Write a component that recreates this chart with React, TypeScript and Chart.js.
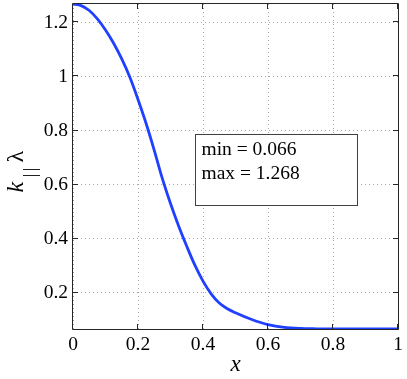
import React, { useEffect, useRef } from "react";
import { Chart, registerables } from "chart.js";

Chart.register(...registerables);

// ---- data ----
const xValues = [0, 0.025, 0.05, 0.075, 0.1, 0.125, 0.15, 0.175, 0.2, 0.225, 0.25, 0.275, 0.3, 0.325, 0.35, 0.375, 0.4, 0.425, 0.45, 0.475, 0.5, 0.55, 0.6, 0.65, 0.7, 0.75, 0.8, 0.9, 1.0];
const yValues = [1.268, 1.262, 1.244, 1.213, 1.172, 1.123, 1.065, 0.997, 0.915, 0.826, 0.727, 0.622, 0.53, 0.447, 0.372, 0.302, 0.243, 0.196, 0.162, 0.141, 0.126, 0.101, 0.082, 0.072, 0.068, 0.0667, 0.066, 0.066, 0.066];
const xTickValues = [0, 0.2, 0.4, 0.6, 0.8, 1];
const xTickLabels = ["0", "0.2", "0.4", "0.6", "0.8", "1"];
const yTickValues = [0.2, 0.4, 0.6, 0.8, 1, 1.2];
const yTickLabels = ["0.2", "0.4", "0.6", "0.8", "1", "1.2"];
const xLabel = "x";
const yLabelMain = "k";
const yLabelSub = "|";
const yLabelTail = "λ";

const SERIF = "'Liberation Serif', 'Times New Roman', serif";
Chart.defaults.font.family = SERIF;

const frameAndTicksPlugin = {
  id: "frameAndTicks",
  afterDatasetsDraw(chart: any) {
    const { ctx, chartArea, scales } = chart;
    const { left, right, top, bottom } = chartArea;
    ctx.save();
    ctx.strokeStyle = "#262626";
    ctx.lineWidth = 1;
    ctx.beginPath();
    ctx.rect(left - 0.5, top - 0.5, right - left + 1, bottom - top + 1);
    ctx.stroke();
    const tl = 5;
    ctx.beginPath();
    for (const v of xTickValues) {
      const px = Math.round(scales.x.getPixelForValue(v)) - 0.5;
      ctx.moveTo(px, bottom);
      ctx.lineTo(px, bottom - tl);
      ctx.moveTo(px, top);
      ctx.lineTo(px, top + tl);
    }
    for (const v of yTickValues) {
      const py = Math.round(scales.y.getPixelForValue(v)) - 0.5;
      ctx.moveTo(left, py);
      ctx.lineTo(left + tl, py);
      ctx.moveTo(right, py);
      ctx.lineTo(right - tl, py);
    }
    ctx.stroke();

    // annotation box
    const w = right - left;
    const h = bottom - top;
    const bx = Math.round(left + 0.374 * w) + 0.5;
    const by = Math.round(top + 0.401 * h) + 0.5;
    const bw = Math.round(0.498 * w);
    const bh = Math.round(0.217 * h);
    ctx.fillStyle = "#ffffff";
    ctx.fillRect(bx, by, bw, bh);
    ctx.strokeStyle = "#404040";
    ctx.strokeRect(bx, by, bw, bh);
    const minV = Math.min(...yValues);
    const maxV = Math.max(...yValues);
    ctx.fillStyle = "#000";
    ctx.font = `19.5px ${SERIF}`;
    ctx.textBaseline = "alphabetic";
    ctx.textAlign = "left";
    ctx.fillText(`min = ${minV.toFixed(3)}`, bx + 6, by + 20);
    ctx.fillText(`max = ${maxV.toFixed(3)}`, bx + 6, by + 44);

    // x axis title
    ctx.font = `italic 23px ${SERIF}`;
    ctx.textAlign = "center";
    ctx.fillText(xLabel, (left + right) / 2, 371);

    // y axis title (rotated), k_|| λ
    const cy = (top + bottom) / 2 + 1;
    ctx.save();
    ctx.translate(23, cy);
    ctx.rotate(-Math.PI / 2);
    ctx.textAlign = "left";
    ctx.font = `italic 24px ${SERIF}`;
    ctx.fillText(yLabelMain, -25, 0);
    ctx.font = `18px ${SERIF}`;
    ctx.fillText(yLabelSub, -9.8, 13);
    ctx.fillText(yLabelSub, -3.8, 13);
    ctx.font = `24px ${SERIF}`;
    ctx.fillText(yLabelTail, 5, 0);
    ctx.restore();
    ctx.restore();
  },
};

export default function App() {
  const ref = useRef<HTMLCanvasElement | null>(null);
  useEffect(() => {
    if (!ref.current) return;
    const chart = new Chart(ref.current, {
      type: "line",
      data: {
        datasets: [
          {
            data: xValues.map((x, i) => ({ x, y: yValues[i] })),
            borderColor: "#2040ff",
            borderWidth: 2.8,
            pointRadius: 0,
            fill: false,
            cubicInterpolationMode: "monotone",
          },
        ],
      },
      options: {
        responsive: false,
        animation: false,
        layout: { padding: { left: 0, right: 9, top: 4, bottom: 0 } },
        plugins: { legend: { display: false }, tooltip: { enabled: false } },
        scales: {
          x: {
            type: "linear",
            min: 0,
            max: 1,
            afterFit: (s: any) => {
              s.height = 50;
              s.paddingLeft = 0;
              s.paddingRight = 0;
            },
            afterBuildTicks: (s: any) => {
              s.ticks = xTickValues.map((v) => ({ value: v }));
            },
            ticks: {
              padding: 4,
              color: "#000",
              font: { family: SERIF, size: 19.5 },
              maxRotation: 0,
              callback: (v: any) => {
                const i = xTickValues.findIndex((t) => Math.abs(t - v) < 1e-9);
                return i >= 0 ? xTickLabels[i] : "";
              },
            },
            grid: {
              color: "#a8a8a8",
              lineWidth: 1,
              drawTicks: false,
            },
            border: { display: false, dash: [1, 3] },
          },
          y: {
            type: "linear",
            min: 0.066,
            max: 1.268,
            afterFit: (s: any) => {
              s.width = 73;
              s.paddingTop = 0;
              s.paddingBottom = 0;
            },
            afterBuildTicks: (s: any) => {
              s.ticks = yTickValues.map((v) => ({ value: v }));
            },
            ticks: {
              padding: 5,
              color: "#000",
              font: { family: SERIF, size: 19.5 },
              callback: (v: any) => {
                const i = yTickValues.findIndex((t) => Math.abs(t - v) < 1e-9);
                return i >= 0 ? yTickLabels[i] : "";
              },
            },
            grid: {
              color: "#a8a8a8",
              lineWidth: 1,
              drawTicks: false,
            },
            border: { display: false, dash: [1, 3] },
          },
        },
      },
      plugins: [frameAndTicksPlugin],
    } as any);
    return () => chart.destroy();
  }, []);
  return (
    <div style={{ position: "fixed", left: 0, top: 0, width: 407, height: 379, background: "#fff" }}>
      <canvas ref={ref} width={407} height={379} style={{ display: "block" }} />
    </div>
  );
}
